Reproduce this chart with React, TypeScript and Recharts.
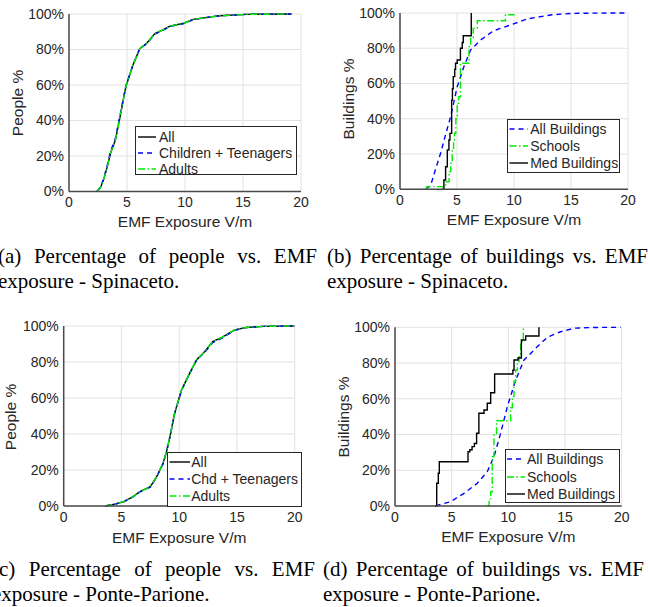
import { LineChart, Line, XAxis, YAxis, CartesianGrid } from "recharts";

const xTicks = [0, 5, 10, 15, 20];
const yTicks = [0, 20, 40, 60, 80, 100];

// (a) people CDF, Spinaceto
const spinPeopleX = [2.4, 2.7, 3.0, 3.3, 3.6, 4.0, 4.4, 4.9, 5.5, 6.1, 6.7, 7.4, 8.1, 8.7, 9.9, 10.7, 11.9, 13.0, 15.3, 17.0, 19.2];
const spinAllY = [0, 2, 7, 14, 22, 29, 42, 59, 71, 80.5, 83.5, 89, 91, 93.2, 94.8, 97, 98.1, 99, 99.8, 99.9, 100];
const spinChildY = [0, 2.2, 7.5, 15, 23, 30, 43, 59.5, 71, 80.5, 83.2, 88.6, 90.8, 93, 94.6, 96.8, 98, 99, 99.8, 99.9, 100];
const spinAdultY = [0, 2, 7, 14, 22, 29, 42, 59, 71, 80.5, 83.5, 89, 91, 93.2, 94.8, 97, 98.1, 99, 99.8, 99.9, 100];

// (b) buildings CDF, Spinaceto
const spinBldX = [2.25, 2.7, 3.1, 3.56, 4.0, 4.44, 5.02, 5.6, 6.19, 7.07, 8.23, 9.7, 11.15, 13.2, 15.2, 17.5, 19.9];
const spinBldY = [0, 2.4, 11, 20.4, 31, 41.2, 58.2, 69.5, 79, 84.7, 90, 93.2, 96.6, 98.9, 99.8, 99.95, 100];
const spinSchoolX = [2.3, 2.35, 4.0, 4.3, 4.45, 4.58, 4.7, 4.78, 4.9, 5.02, 5.16, 5.3, 6.05, 6.2, 6.42, 6.78, 9.25, 10.05];
const spinSchoolY = [0, 1.5, 4.3, 10, 14.7, 22, 28, 31.8, 40, 48.8, 52.5, 71.5, 80.9, 86, 91.3, 95.6, 99, 99];
const spinMedX = [3.7, 3.85, 4.0, 4.15, 4.29, 4.38, 4.53, 4.6, 4.67, 4.8, 4.87, 5.02, 5.3, 5.46, 5.55, 6.25];
const spinMedY = [0, 5.3, 12.8, 22.3, 28, 31.7, 50.6, 57, 63.9, 68, 71.5, 73.3, 80, 83.3, 87.1, 100];

// (c) people CDF, Ponte-Parione
const pontePeopleX = [3.6, 4.4, 5.2, 6.0, 6.6, 7.5, 8.05, 8.6, 8.9, 9.2, 9.6, 10.2, 10.9, 11.5, 12.2, 12.9, 13.7, 14.8, 15.8, 17.3, 20];
const ponteAllY = [0, 1, 2.4, 5.2, 8, 10.7, 16.3, 23.7, 30.2, 38.5, 51.5, 64.4, 73.7, 81.1, 85.7, 91.3, 93.7, 97.8, 99.2, 99.8, 100];
const ponteChildY = [0, 1, 2.3, 5, 7.8, 10.5, 16, 23.4, 30, 38.3, 51.2, 64.2, 73.5, 81, 85.3, 90.8, 93.2, 97.6, 99.1, 99.8, 100];
const ponteAdultY = [0, 1, 2.4, 5.2, 8, 10.7, 16.3, 23.7, 30.2, 38.5, 51.5, 64.4, 73.7, 81.1, 85.7, 91.3, 93.7, 97.8, 99.2, 99.8, 100];

// (d) buildings CDF, Ponte-Parione
const ponteBldX = [3.59, 4.2, 4.91, 6.09, 7.26, 8.14, 8.73, 9.32, 9.91, 10.65, 11.38, 12.55, 13.44, 14.6, 15.8, 17.5, 19.9];
const ponteBldY = [0, 1.2, 2.4, 7.1, 12.7, 19.2, 27.6, 40.7, 55.6, 70.5, 81.7, 89.1, 94.4, 97.5, 99.5, 99.9, 100];
const ponteSchoolX = [8.14, 8.3, 8.44, 8.58, 8.73, 8.96, 10.2, 10.35, 10.5, 10.65, 10.8, 10.94, 11.09, 11.32];
const ponteSchoolY = [0, 4, 8, 27.6, 39.7, 47.7, 55, 61.2, 70, 76.1, 80, 83.6, 92, 100];
const ponteMedX = [3.53, 3.68, 3.82, 3.91, 6.44, 6.6, 6.8, 7.0, 7.2, 7.4, 7.85, 8.14, 8.44, 8.79, 10.4, 10.5, 10.85, 11.15, 11.53, 12.7];
const ponteMedY = [0, 12.7, 18.3, 24.8, 30.4, 31.5, 33.2, 35, 40.7, 51.9, 53.7, 57.5, 63.4, 73.9, 76, 81.7, 82.8, 92.9, 95.1, 100];

const zip = (xs: number[], ys: number[]) => xs.map((x, i) => ({ x, y: ys[i] }));

const BLACK = { color: "#000000", dash: undefined as string | undefined };
const BLUE = { color: "#0000ff", dash: "5 4" };
const GREEN = { color: "#00ee00", dash: "7 2.5 1.5 2.5" };

const AXIS = "#4a4a4a";
const TEXT = "#262626";
const SANS = "'Liberation Sans', Arial, sans-serif";

// room reserved for the tick labels on each axis
const Y_AXIS_W = 45;
const X_AXIS_H = 22;

type Series = {
  name: string;
  data: { x: number; y: number }[];
  style: { color: string; dash?: string };
  step?: boolean;
};

type PanelProps = {
  box: { left: number; top: number; w: number; h: number };
  plot: { l: number; t: number; r: number; b: number };
  yTitle: string;
  yTitlePos: [number, number];
  xTitleY: number;
  series: Series[];
  legend: { left: number; top: number; w: number; h: number; row: number; first: number; sample: [number, number]; text: number };
};

function Panel({ box, plot, yTitle, yTitlePos, xTitleY, series, legend }: PanelProps) {
  const margin = {
    left: plot.l - box.left - Y_AXIS_W,
    top: plot.t - box.top,
    right: box.left + box.w - plot.r,
    bottom: box.top + box.h - plot.b - X_AXIS_H,
  };
  const tick = { fontSize: 14, fill: TEXT, fontFamily: SANS };
  return (
    <>
      <div style={{ position: "absolute", left: box.left, top: box.top }}>
        <LineChart width={box.w} height={box.h} margin={margin}>
          <CartesianGrid stroke="#e2e2e2" strokeWidth={1} />
          <XAxis
            type="number"
            dataKey="x"
            domain={[0, 20]}
            ticks={xTicks}
            allowDataOverflow
            height={X_AXIS_H}
            tickLine={false}
            tickSize={0}
            tickMargin={6}
            axisLine={{ stroke: AXIS, strokeWidth: 1.5 }}
            tick={tick}
          />
          <YAxis
            type="number"
            domain={[0, 100]}
            ticks={yTicks}
            width={Y_AXIS_W}
            tickLine={false}
            tickSize={0}
            tickMargin={5}
            axisLine={{ stroke: AXIS, strokeWidth: 1.5 }}
            tick={tick}
            tickFormatter={(v: number) => `${v}%`}
          />
          {series.map((s) => (
            <Line
              key={s.name}
              data={s.data}
              dataKey="y"
              name={s.name}
              type={s.step ? "stepAfter" : "linear"}
              stroke={s.style.color}
              strokeWidth={1.4}
              strokeDasharray={s.style.dash}
              dot={false}
              activeDot={false}
              isAnimationActive={false}
            />
          ))}
        </LineChart>
      </div>
      <div
        style={{
          position: "absolute",
          left: (plot.l + plot.r) / 2,
          top: xTitleY,
          transform: "translate(-50%, -50%)",
          fontFamily: SANS,
          fontSize: 15.5,
          color: TEXT,
          whiteSpace: "nowrap",
        }}
      >
        EMF Exposure V/m
      </div>
      <div
        style={{
          position: "absolute",
          left: yTitlePos[0],
          top: yTitlePos[1],
          transform: "translate(-50%, -50%) rotate(-90deg)",
          fontFamily: SANS,
          fontSize: 15.5,
          color: TEXT,
          whiteSpace: "nowrap",
        }}
      >
        {yTitle}
      </div>
      <div
        style={{
          position: "absolute",
          left: legend.left,
          top: legend.top,
          width: legend.w,
          height: legend.h,
          boxSizing: "border-box",
          border: `1px solid ${TEXT}`,
          background: "#fff",
        }}
      >
        {series.map((s, i) => {
          const cy = legend.first + i * legend.row;
          return (
            <div key={s.name}>
              <svg
                width={legend.sample[1]}
                height={4}
                style={{ position: "absolute", left: 0, top: cy - 3 }}
              >
                <line
                  x1={legend.sample[0]}
                  x2={legend.sample[1]}
                  y1={2}
                  y2={2}
                  stroke={s.style.color}
                  strokeWidth={1.4}
                  strokeDasharray={s.style.dash}
                />
              </svg>
              <div
                style={{
                  position: "absolute",
                  left: legend.text,
                  top: cy - 1,
                  transform: "translateY(-50%)",
                  fontFamily: SANS,
                  fontSize: 14,
                  color: TEXT,
                  whiteSpace: "nowrap",
                  lineHeight: "16px",
                }}
              >
                {s.name}
              </div>
            </div>
          );
        })}
      </div>
    </>
  );
}

function Caption({ left, top, width, line1, line2 }: { left: number; top: number; width: number; line1: string; line2: string }) {
  const base = {
    position: "absolute" as const,
    left,
    fontFamily: "'Liberation Serif', 'Times New Roman', serif",
    fontSize: 21,
    lineHeight: "24px",
    color: "#000",
  };
  return (
    <>
      <div style={{ ...base, top, width, textAlign: "justify", textAlignLast: "justify" }}>{line1}</div>
      <div style={{ ...base, top: top + 25, whiteSpace: "nowrap" }}>{line2}</div>
    </>
  );
}

export default function App() {
  const spinPeople: Series[] = [
    { name: "All", data: zip(spinPeopleX, spinAllY), style: BLACK },
    { name: "Children + Teenagers", data: zip(spinPeopleX, spinChildY), style: BLUE },
    { name: "Adults", data: zip(spinPeopleX, spinAdultY), style: GREEN },
  ];
  const spinBuildings: Series[] = [
    { name: "All Buildings", data: zip(spinBldX, spinBldY), style: BLUE },
    { name: "Schools", data: zip(spinSchoolX, spinSchoolY), style: GREEN, step: true },
    { name: "Med Buildings", data: zip(spinMedX, spinMedY), style: BLACK, step: true },
  ];
  const pontePeople: Series[] = [
    { name: "All", data: zip(pontePeopleX, ponteAllY), style: BLACK },
    { name: "Chd + Teenagers", data: zip(pontePeopleX, ponteChildY), style: BLUE },
    { name: "Adults", data: zip(pontePeopleX, ponteAdultY), style: GREEN },
  ];
  const ponteBuildings: Series[] = [
    { name: "All Buildings", data: zip(ponteBldX, ponteBldY), style: BLUE },
    { name: "Schools", data: zip(ponteSchoolX, ponteSchoolY), style: GREEN, step: true },
    { name: "Med Buildings", data: zip(ponteMedX, ponteMedY), style: BLACK, step: true },
  ];

  return (
    <div
      style={{
        position: "absolute",
        left: 0,
        top: 0,
        width: 648,
        height: 607,
        background: "#fff",
        overflow: "hidden",
      }}
    >
      <Panel
        box={{ left: 0, top: 0, w: 324, h: 230 }}
        plot={{ l: 69, t: 14, r: 301, b: 191.5 }}
        yTitle="People %"
        yTitlePos={[18, 103]}
        xTitleY={222}
        series={spinPeople}
        legend={{ left: 135, top: 126, w: 162, h: 49, row: 16, first: 11, sample: [2, 20], text: 23 }}
      />
      <Panel
        box={{ left: 324, top: 0, w: 324, h: 230 }}
        plot={{ l: 400, t: 13, r: 628, b: 189.3 }}
        yTitle="Buildings %"
        yTitlePos={[349, 99]}
        xTitleY={220}
        series={spinBuildings}
        legend={{ left: 506.7, top: 119, w: 113.3, h: 53.7, row: 17, first: 10, sample: [1.5, 20.5], text: 22.5 }}
      />
      <Panel
        box={{ left: 0, top: 300, w: 324, h: 230 }}
        plot={{ l: 63.7, t: 326, r: 294.7, b: 506 }}
        yTitle="People %"
        yTitlePos={[11, 417]}
        xTitleY={538}
        series={pontePeople}
        legend={{ left: 166.7, top: 451.7, w: 135.6, h: 55, row: 17, first: 10, sample: [1.5, 22], text: 23.5 }}
      />
      <Panel
        box={{ left: 324, top: 300, w: 324, h: 230 }}
        plot={{ l: 395, t: 327.3, r: 621.7, b: 506 }}
        yTitle="Buildings %"
        yTitlePos={[344, 416.7]}
        xTitleY={537.3}
        series={ponteBuildings}
        legend={{ left: 505, top: 449, w: 114.7, h: 53.7, row: 17.3, first: 10.3, sample: [1, 19], text: 21 }}
      />
      <Caption left={-2} top={244} width={319} line1="(a) Percentage of people vs. EMF" line2="exposure - Spinaceto." />
      <Caption left={327} top={244} width={321} line1="(b) Percentage of buildings vs. EMF" line2="exposure - Spinaceto." />
      <Caption left={-8} top={557} width={323} line1="(c) Percentage of people vs. EMF" line2="exposure - Ponte-Parione." />
      <Caption left={323} top={557} width={321} line1="(d) Percentage of buildings vs. EMF" line2="exposure - Ponte-Parione." />
    </div>
  );
}
